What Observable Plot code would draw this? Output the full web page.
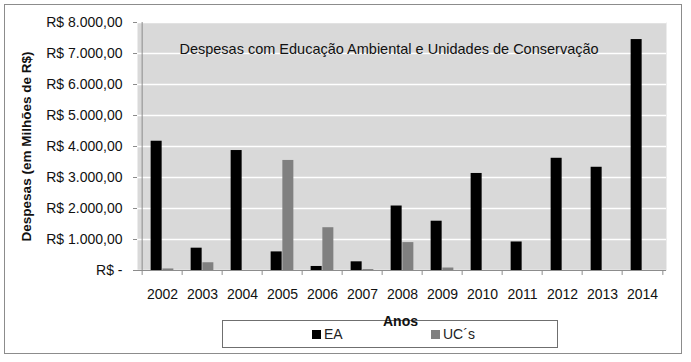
<!DOCTYPE html>
<html>
<head>
<meta charset="utf-8">
<script src="https://cdn.jsdelivr.net/npm/d3@7"></script>
<script src="https://cdn.jsdelivr.net/npm/@observablehq/plot@0.6"></script>
<style>
  html, body { margin: 0; padding: 0; background: #fff; }
  #wrap { position: relative; width: 691px; height: 362px; font-family: "Liberation Sans", "DejaVu Sans", sans-serif; }
  #border { position: absolute; left: 4px; top: 4px; width: 678px; height: 350px; border: 1.5px solid #8c8c8c; box-sizing: border-box; pointer-events: none; }
  #legend { position: absolute; left: 222px; top: 320px; width: 336px; height: 28px; border: 1px solid #6f6f6f; box-sizing: border-box; background: #fff; font-size: 14px; color: #222; }
  .item { position: absolute; top: 5px; display: flex; align-items: center; gap: 3px; }
  .sw { width: 9px; height: 9px; display: inline-block; }
  #anos { position: absolute; left: 383px; top: 313px; font-size: 14px; font-weight: bold; color: #111; }
</style>
</head>
<body>
<div id="wrap">
  <div id="chart"></div>
  <div id="border"></div>
  <div id="legend"></div>
  <div id="anos"></div>
</div>
<script>
const years = ["2002","2003","2004","2005","2006","2007","2008","2009","2010","2011","2012","2013","2014"];
const eaValues = [4170, 720, 3870, 600, 130, 280, 2080, 1590, 3130, 920, 3620, 3330, 7450];
const ucValues = [50, 250, 0, 3550, 1380, 30, 900, 80, 0, 0, 0, 0, 0];
const yTicks = [0, 1000, 2000, 3000, 4000, 5000, 6000, 7000, 8000];
const seriesNames = ["EA", "UC´s"];
const seriesColors = ["#000000", "#808080"];
const titleText = "Despesas com Educação Ambiental e Unidades de Conservação";
const yLabel = "Despesas (em Milhões de R$)";
const xLabel = "Anos";

const ea = years.map((y, i) => ({year: y, value: eaValues[i]}));
const uc = years.map((y, i) => ({year: y, value: ucValues[i]}));

const fmt = v => v === 0 ? "R$ -" : "R$ " + d3.format(",.2f")(v).replace(/,/g, "#").replace(/\./g, ",").replace(/#/g, ".");

const W = 691, H = 362, mL = 137, mR = 25, mT = 22, mB = 92;
const bw = (W - mL - mR) / years.length;
const barW = 11.7;
const off = (bw - 2 * barW) / 2;

const plot = Plot.plot({
  width: W, height: H,
  marginLeft: mL, marginRight: mR, marginTop: mT, marginBottom: mB,
  style: {fontFamily: "Liberation Sans, DejaVu Sans, sans-serif", fontSize: "14px", color: "#111", background: "transparent"},
  x: {domain: years, padding: 0, label: null},
  y: {domain: [0, 8000], label: null},
  marks: [
    Plot.frame({fill: "#d9d9d9"}),
    Plot.gridY(yTicks, {stroke: "#fff", strokeOpacity: 1, strokeWidth: 1.5}),
    Plot.barY(ea, {x: "year", y: "value", fill: seriesColors[0], insetLeft: off, insetRight: off + barW}),
    Plot.barY(uc, {x: "year", y: "value", fill: seriesColors[1], insetLeft: off + barW, insetRight: off}),
    Plot.ruleY([0], {stroke: "#8c8c8c", strokeWidth: 1}),
    Plot.ruleX([0], {x: () => years[0], dx: -bw / 2, y1: 0, y2: 8000, stroke: "#8c8c8c"}),
    Plot.ruleX(years, {x: d => d, dx: -bw / 2, y1: 0, y2: -160, stroke: "#8c8c8c"}),
    Plot.ruleX([years[years.length - 1]], {x: d => d, dx: bw / 2, y1: 0, y2: -160, stroke: "#8c8c8c"}),
    Plot.axisY(yTicks, {tickFormat: fmt, tickSize: 4, tickPadding: 11, stroke: "#8c8c8c", fontSize: 14, fill: "#111"}),
    Plot.axisX({tickSize: 0, tickPadding: 19, fontSize: 14, fill: "#111"}),
    Plot.text([titleText], {frameAnchor: "top", dy: 21, dx: -13, fontSize: 14.5, fill: "#111"}),
    Plot.text([yLabel], {frameAnchor: "left", textAnchor: "middle", dx: -111, dy: 0, rotate: -90, fontSize: 13.5, fontWeight: "bold", fill: "#111"})
  ]
});
document.getElementById("chart").appendChild(plot);

const legend = document.getElementById("legend");
const pos = [89, 208];
seriesNames.forEach((n, i) => {
  const it = document.createElement("div");
  it.className = "item";
  it.style.left = pos[i] + "px";
  const sw = document.createElement("span");
  sw.className = "sw";
  sw.style.background = seriesColors[i];
  const t = document.createElement("span");
  t.textContent = n;
  it.appendChild(sw); it.appendChild(t);
  legend.appendChild(it);
});
document.getElementById("anos").textContent = xLabel;
</script>
</body>
</html>
